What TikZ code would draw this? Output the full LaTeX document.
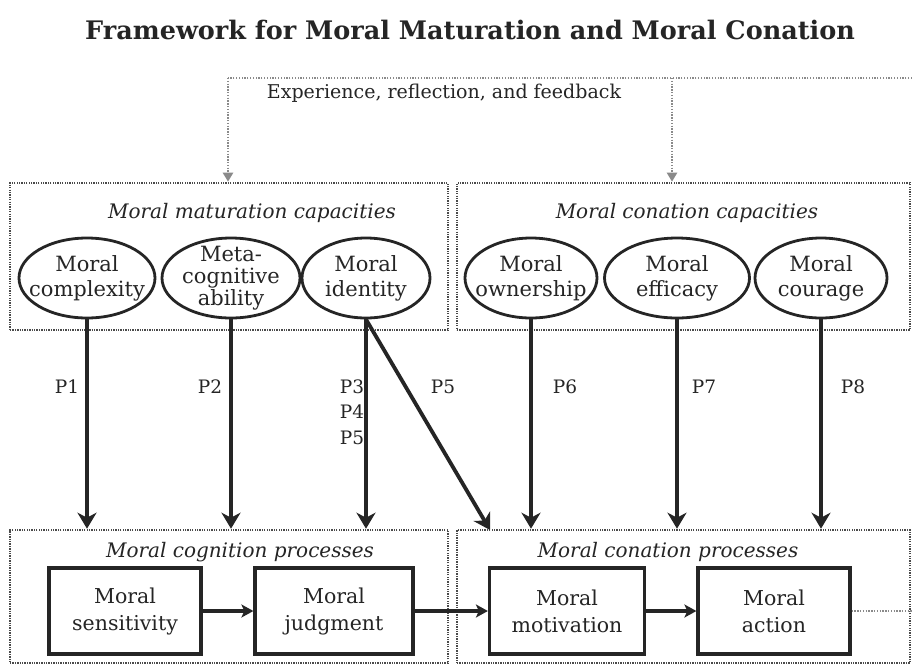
\documentclass[tikz,border=0pt]{standalone}
\usepackage{fontspec}
\setmainfont{DejaVu Serif}
\usetikzlibrary{arrows.meta,shapes.geometric,calc}
\definecolor{ink}{HTML}{252525}
\definecolor{dotc}{HTML}{4A4A4A}
\definecolor{fbc}{HTML}{8A8A8A}
\begin{document}
\begin{tikzpicture}[x=1pt,y=-1pt,
  every node/.style={text=ink},
  ell/.style={draw=ink, ellipse, line width=2.8pt, inner sep=-13pt, minimum height=80pt, align=center, font=\fontsize{21}{25}\selectfont},
  procbox/.style={draw=ink, rectangle, line width=3.2pt, minimum width=152pt, minimum height=86pt, align=center, font=\fontsize{20.5}{27}\selectfont},
  grp/.style={draw=dotc, rectangle, line width=2.6pt, dash pattern=on 1.3pt off 1.1pt, inner sep=0pt},
  grptitle/.style={font=\fontsize{20}{24}\selectfont\itshape},
  plab/.style={font=\fontsize{18.5}{20}\selectfont, inner sep=0pt},
  bigarrow/.style={draw=ink, line width=3.8pt, -{Stealth[length=16pt,width=19pt,inset=5pt]}},
  procarrow/.style={draw=ink, line width=3.2pt, -{Stealth[length=12pt,width=13pt,inset=3pt]}},
  fbline/.style={draw=fbc, line width=2.2pt, dash pattern=on 1.3pt off 1.5pt},
  fbarrow/.style={fbline, -{Triangle[length=9pt,width=10pt,fill=fbc]}}
]
\useasboundingbox (0,0) rectangle (912,667);
\fill[white] (0,0) rectangle (912,667);

% title
\node[font=\fontsize{25.5}{30}\selectfont\bfseries] (title) at (470,30) {Framework for Moral Maturation and Moral Conation};

% group boxes
\node[grp, minimum width=438pt, minimum height=147pt] (mat) at (229,256.5) {};
\node[grp, minimum width=453pt, minimum height=147pt] (ccap) at (683.5,256.5) {};
\node[grp, minimum width=438pt, minimum height=133pt] (cog) at (229,596.5) {};
\node[grp, minimum width=453pt, minimum height=133pt] (cproc) at (683.5,596.5) {};

\node[grptitle] (matt) at (252,213) {Moral maturation capacities};
\node[grptitle] (ccapt) at (687,213) {Moral conation capacities};
\node[grptitle] (cogt) at (240,552) {Moral cognition processes};
\node[grptitle] (cproct) at (668,552) {Moral conation processes};

% feedback loop
\node[font=\fontsize{19}{23}\selectfont] (exp) at (444,93) {Experience, reflection, and feedback};
\coordinate (fbTL) at (228,78);
\coordinate (fbTM) at (672,78);
\coordinate (fbTR) at (912,78);
\coordinate (fbBR) at (912,606);
\draw[fbline] (fbTR) -- (fbTL);
\draw[fbarrow] (fbTL) -- (fbTL |- mat.north);
\draw[fbarrow] (fbTM) -- (fbTM |- ccap.north);

% ellipses
\node[ell, minimum width=136pt] (comp) at (87,278) {Moral\\complexity};
\node[ell, minimum width=138pt, font=\fontsize{21}{22}\selectfont] (meta) at (231,278) {Meta-\\cognitive\\ability};
\node[ell, minimum width=128pt] (ident) at (366,278) {Moral\\identity};
\node[ell, minimum width=132pt] (own) at (531,278) {Moral\\ownership};
\node[ell, minimum width=145pt] (eff) at (677,278) {Moral\\efficacy};
\node[ell, minimum width=132pt] (cour) at (821,278) {Moral\\courage};

% process boxes
\node[procbox] (sens) at (125,611) {Moral\\sensitivity};
\node[procbox, minimum width=158pt] (judg) at (334,611) {Moral\\judgment};
\node[procbox, minimum width=155pt] (motiv) at (567,611) {Moral\\motivation};
\node[procbox] (act) at (774,611) {Moral\\action};

\draw[procarrow] (sens) -- (judg);
\draw[procarrow] (judg) -- (motiv);
\draw[procarrow] (motiv) -- (act);
\draw[fbline] (act.east) -- (act.east -| fbBR);

% propositions arrows
\coordinate (p5end) at (490,530);
\draw[bigarrow] (comp.south) -- (comp.south |- cog.north);
\draw[bigarrow] (meta.south) -- (meta.south |- cog.north);
\draw[bigarrow] (ident.south) -- (ident.south |- cog.north);
\draw[bigarrow] (ident.south) -- (p5end);
\draw[bigarrow] (own.south) -- (own.south |- cproc.north);
\draw[bigarrow] (eff.south) -- (eff.south |- cproc.north);
\draw[bigarrow] (cour.south) -- (cour.south |- cproc.north);

% labels
\node[plab] (l1) at (67,387) {P1};
\node[plab] (l2) at (210,387) {P2};
\node[plab] (l3) at (352,387) {P3};
\node[plab] (l4) at (352,412) {P4};
\node[plab] (l5) at (352,438) {P5};
\node[plab] (l5b) at (443,387) {P5};
\node[plab] (l6) at (565,387) {P6};
\node[plab] (l7) at (704,387) {P7};
\node[plab] (l8) at (853,387) {P8};
\end{tikzpicture}
\end{document}
